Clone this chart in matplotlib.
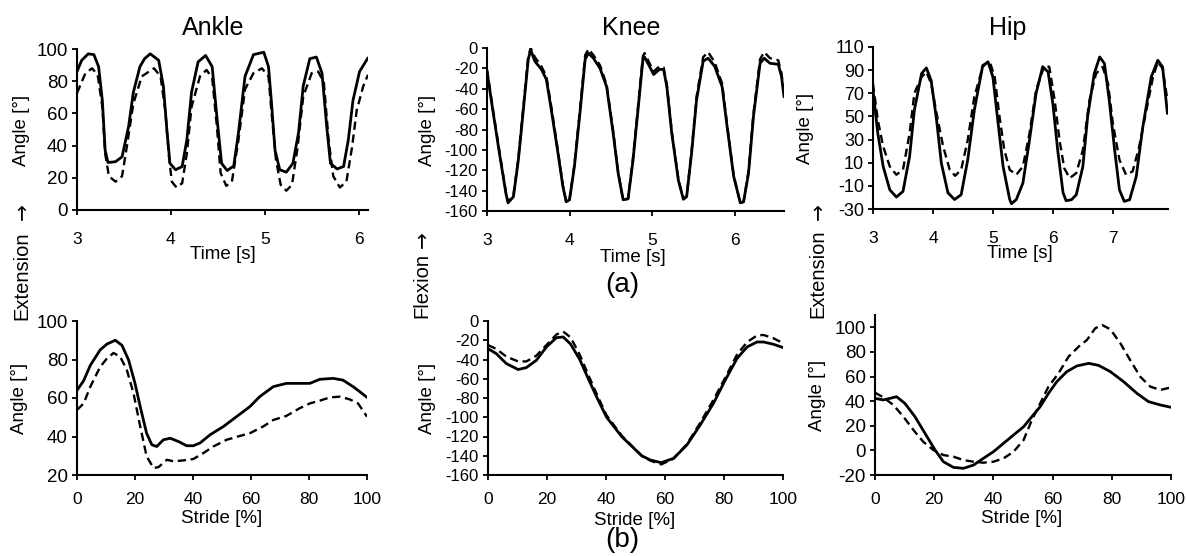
import matplotlib
matplotlib.use("Agg")
import matplotlib.pyplot as plt

#=======================================
# Data
#=======================================
# (a) time series, ankle
ankle_t_solid = [3.0, 3.05, 3.12, 3.18, 3.23, 3.27, 3.30, 3.33, 3.41, 3.48, 3.55, 3.60, 3.67, 3.72, 3.78, 3.87,
                 3.92, 3.96, 3.99, 4.05, 4.12, 4.17, 4.22, 4.29, 4.37, 4.44, 4.49, 4.54, 4.60, 4.67, 4.72,
                 4.79, 4.88, 4.99, 5.04, 5.07, 5.11, 5.16, 5.23, 5.30, 5.36, 5.41, 5.48, 5.55, 5.61, 5.66,
                 5.70, 5.77, 5.84, 5.89, 5.94, 6.01, 6.10]
ankle_solid = [86, 93, 97, 96.5, 89, 68, 37, 29.5, 30, 33, 52, 73, 89, 94, 97, 93,
               77, 48, 29, 25, 27, 43.5, 73, 92, 96, 89, 58, 29, 24.5, 27.4, 48,
               83, 96.5, 98, 89, 68, 37, 25, 23.5, 29, 48, 77, 94, 95, 85, 52,
               29, 25.5, 27, 43.5, 68, 86, 94.5]
ankle_t_dash = [3.0, 3.09, 3.16, 3.22, 3.27, 3.30, 3.34, 3.41, 3.48, 3.53, 3.60, 3.69, 3.82, 3.89, 3.94,
                3.98, 4.01, 4.06, 4.12, 4.17, 4.22, 4.31, 4.38, 4.44, 4.49, 4.53, 4.59, 4.65, 4.72, 4.79,
                4.88, 4.97, 5.04, 5.07, 5.12, 5.17, 5.23, 5.29, 5.35, 5.41, 5.50, 5.57, 5.63, 5.68, 5.73,
                5.80, 5.87, 5.93, 5.98, 6.05, 6.10]
ankle_dash = [72.6, 85, 88, 84, 64, 35, 21, 17.6, 21, 39, 66, 83, 88, 83, 62,
              33, 17.6, 14, 16.6, 35, 64, 83, 87, 82, 52, 23, 15, 17.6, 43.5, 75,
              85, 88, 83, 62, 31, 15.6, 12, 15.6, 39, 70.5, 85, 86, 79, 43.5, 21,
              14, 17.6, 39, 62, 77, 84]

# (a) time series, knee
knee_t = [3.0, 3.07, 3.15, 3.23, 3.255, 3.32, 3.38, 3.44, 3.50, 3.53, 3.58, 3.66, 3.72, 3.78, 3.86,
          3.92, 3.96, 4.00, 4.06, 4.13, 4.19, 4.23, 4.29, 4.37, 4.45, 4.53, 4.59, 4.65, 4.71, 4.77,
          4.83, 4.89, 4.91, 4.97, 5.02, 5.09, 5.14, 5.18, 5.24, 5.32, 5.38, 5.42, 5.48, 5.54, 5.62,
          5.68, 5.76, 5.85, 5.91, 5.99, 6.07, 6.11, 6.17, 6.23, 6.31, 6.36, 6.43, 6.53, 6.57, 6.60]
knee_solid = [-23, -61, -103, -143, -152, -146, -110, -61, -11, -2, -13, -21, -31, -61, -103,
              -136, -151, -149, -116, -61, -11, -5, -10, -20, -38, -84, -123, -149, -148, -110,
              -61, -11, -9, -18, -26, -21, -21, -38, -84, -130, -148.5, -146, -103, -51, -13,
              -10, -18, -38, -77, -126, -152, -151, -123, -67, -15, -10, -15, -16, -28, -48]
knee_dash = [-21, -59, -101, -142, -151, -145, -108, -58, -8, 0, -9, -18, -28, -58, -101,
             -135, -151, -149, -114, -58, -7, -1, -7, -17, -36, -82, -122, -149, -148, -108,
             -58, -8, -5, -15, -23, -18, -19, -36, -82, -129, -148, -145, -101, -48, -9,
             -4, -14, -35, -75, -125, -152, -151, -121, -64, -11, -4, -10, -12, -25, -45]

# (a) time series, hip
hip_t_solid = [3.0, 3.08, 3.17, 3.28, 3.39, 3.50, 3.61, 3.69, 3.81, 3.89, 3.97, 4.06, 4.14, 4.25, 4.36,
               4.47, 4.58, 4.69, 4.83, 4.92, 5.0, 5.08, 5.17, 5.28, 5.31, 5.39, 5.50, 5.61, 5.72, 5.83,
               5.92, 6.0, 6.08, 6.17, 6.22, 6.31, 6.39, 6.50, 6.58, 6.69, 6.78, 6.86, 6.94, 7.03, 7.11,
               7.19, 7.28, 7.39, 7.50, 7.64, 7.75, 7.83, 7.91]
hip_solid = [72.7, 35.4, 6.7, -13.4, -19.7, -14.8, 15.3, 55.5, 87, 92, 81, 47, 9.6, -16, -21.8,
             -17.7, 12.5, 55.5, 94, 97, 84, 47, 6.7, -21.8, -25.4, -21.8, -7.6, 29.7, 70, 93,
             88.5, 61, 21, -16, -22.8, -22, -17.7, 6.7, 50, 87, 101.4, 95.7, 64, 21, -13.4,
             -23.4, -22, -2, 41, 84, 98.5, 92.8, 52.6]
hip_t_dash = [3.0, 3.08, 3.17, 3.28, 3.39, 3.50, 3.61, 3.69, 3.81, 3.89, 3.97, 4.06, 4.17, 4.28, 4.37,
              4.47, 4.58, 4.69, 4.83, 4.94, 5.03, 5.11, 5.19, 5.28, 5.39, 5.50, 5.61, 5.72, 5.86, 5.94,
              6.03, 6.11, 6.19, 6.28, 6.39, 6.50, 6.61, 6.72, 6.83, 6.92, 7.0, 7.11, 7.22, 7.33, 7.44,
              7.56, 7.67, 7.75, 7.83, 7.91]
hip_dash = [78.4, 47, 24, 6.7, -0.4, 3.9, 35.4, 70, 84, 88.5, 78.4, 52.6, 24, 3.9, -1.3,
            3.9, 29.7, 67, 92.8, 98.5, 84, 49.8, 21, 3.9, -0.4, 6.7, 35.4, 72.7, 94.2, 92.8,
            64, 29.7, 5.3, -3.3, 1, 21, 64, 87, 92.8, 78.4, 44, 12.5, -0.4, 2.5, 24,
            55.5, 84, 97, 91.4, 64]

# (b) mean stride
ankle_s_solid = [0, 2.3, 4.6, 8, 10.3, 13.2, 15.5, 17.8, 20, 21.8, 24, 25.8, 27.5, 29.8, 32.1, 35, 37.8,
                 40.1, 42.4, 45.9, 50.5, 55, 59.6, 63, 67.7, 72.2, 76.8, 80.3, 83.7, 88.3, 91.7, 95.2,
                 97.5, 100]
ankle_b_solid = [64, 69, 77, 85, 88, 90, 87.4, 79.7, 67.6, 55.5, 41.7, 35.7, 34.8, 38.3, 39.1, 37.4, 35.2,
                 35.2, 36.6, 40.9, 45.2, 50.3, 55.5, 60.7, 65.9, 67.6, 67.6, 67.6, 69.7, 70.2, 69.3, 65.9,
                 63.3, 60.3]
ankle_s_dash = [0, 2.3, 4.6, 8, 10.3, 12.6, 14.9, 17.2, 19.5, 21.8, 24, 26.4, 28.1, 31, 33.3, 36.7, 40.1,
                43.6, 47, 51.6, 56.2, 59.6, 64.2, 67.7, 72.2, 76.8, 80.3, 83.7, 87.2, 90.6, 94, 96.9, 100]
ankle_b_dash = [53.8, 57.2, 65.9, 76.2, 80.5, 83.4, 81.4, 74.5, 62.4, 45.2, 29.7, 23.6, 24.1, 27.9, 27.1,
                27.6, 28.3, 31.4, 34.8, 38.3, 40.3, 41.7, 45.2, 48.6, 50.7, 54.7, 57.2, 58.6, 60.3, 60.7,
                59.3, 57.2, 50.3]

knee_s = [0, 2.8, 6.2, 10.2, 13, 16.4, 19.8, 23.2, 25.5, 28, 31.1, 34, 37, 40.2, 45.3, 52.1, 55, 58.7,
          62.9, 67.4, 71.9, 76.4, 80.4, 84.4, 87.8, 91.2, 93.4, 96.8, 100]
knee_b_solid = [-28.7, -33.9, -44.2, -50.4, -48.4, -40.8, -27, -17.3, -16.6, -24, -40, -60, -80, -100,
                -120, -140, -144.4, -147.2, -142.7, -128.9, -108.2, -85.7, -61.5, -39, -27, -21.8,
                -21.8, -24.2, -27.6]
knee_b_dash = [-25, -29, -37, -42, -42, -36, -25, -14, -11, -17, -35, -56, -77, -98, -119, -140, -145,
               -149, -143, -128, -106, -82, -59, -35, -22, -15, -14.5, -18, -23]

hip_s_solid = [0, 2.8, 5.1, 7.3, 10.1, 13.5, 16.9, 20.3, 23.1, 26.5, 29.9, 33.3, 36.6, 40, 43.4, 46.8,
               50.2, 53, 55.8, 58.6, 61.4, 64.8, 68.2, 72.2, 75.5, 79.5, 84, 88.5, 92.4, 96.4, 100]
hip_b_solid = [42.3, 41, 42.3, 43.6, 38.2, 27.4, 13.8, 0.3, -9.2, -13.8, -14.6, -11.9, -6.5, -1.1, 5.7,
               12.5, 19.2, 27.4, 35.5, 46.3, 55.8, 64, 68.6, 70.7, 69.1, 64, 55.8, 46.3, 39.6, 36.9, 35]
hip_s_dash = [0, 2.8, 6.2, 9.6, 13, 16.3, 19.7, 23.1, 26.5, 29.9, 33.3, 36.6, 40, 43.4, 46.8, 50.2, 53,
              55.8, 58.6, 62, 65.4, 68.8, 71.6, 74.4, 76.7, 79.5, 82.9, 86.2, 89.6, 93, 96.4, 100]
hip_b_dash = [46.9, 43.1, 36.9, 27.4, 16.5, 7, 0.3, -3.8, -5.1, -7.9, -9.2, -10, -9.2, -6.5, -1.1, 8.4,
              24.7, 38.2, 51.8, 62.6, 76.2, 84.3, 89.7, 99.2, 101.9, 98.4, 87, 73.4, 59.9, 51.8, 49.1, 51.2]

#=======================================
# Layout (pixel boxes: left, top, right, bottom)
#=======================================
W, H = 1187, 556
plt.rcParams['font.family'] = ['Liberation Sans', 'DejaVu Sans']
plt.rcParams['axes.unicode_minus'] = False

fig = plt.figure(figsize=(W / 100.0, H / 100.0), dpi=100)


def add_panel(l, t, r, b, ysize=13):
    ax = fig.add_axes([l / W, 1 - b / H, (r - l) / W, (b - t) / H])
    ax.spines['top'].set_visible(False)
    ax.spines['right'].set_visible(False)
    ax.spines['left'].set_linewidth(1.5)
    ax.spines['bottom'].set_linewidth(1.5)
    ax.tick_params(direction='out', length=3.5, width=1.3, colors='black')
    ax.tick_params(axis='y', pad=3, labelsize=ysize)
    ax.tick_params(axis='x', labelsize=12.5)
    return ax


def draw(ax, xs, ys, xd, yd):
    ax.plot(xs, ys, color='black', lw=2.0, solid_capstyle='round')
    ax.plot(xd, yd, color='black', lw=1.7, linestyle=(0, (3.5, 2)))


def ftext(x, y, s, **kw):
    fig.text(x / W, 1 - y / H, s, **kw)


# top row
ax1 = add_panel(77, 49, 368, 210, ysize=13.5)
draw(ax1, ankle_t_solid, ankle_solid, ankle_t_dash, ankle_dash)
ax1.set_xlim(3, 6.1)
ax1.set_ylim(0, 100)
ax1.set_xticks([3, 4, 5, 6])
ax1.set_yticks(range(0, 101, 20))

ax2 = add_panel(487, 48, 784, 211, ysize=12)
draw(ax2, knee_t, knee_solid, knee_t, knee_dash)
ax2.set_xlim(3, 6.6)
ax2.set_ylim(-160, 0)
ax2.set_xticks([3, 4, 5, 6])
ax2.set_yticks(range(-160, 1, 20))

ax3 = add_panel(873, 47, 1168, 209, ysize=13)
draw(ax3, hip_t_solid, hip_solid, hip_t_dash, hip_dash)
ax3.set_xlim(3, 7.92)
ax3.set_ylim(-30, 110)
ax3.set_xticks([3, 4, 5, 6, 7])
ax3.set_yticks(range(-30, 111, 20))

for ax in (ax1, ax2, ax3):
    ax.tick_params(axis='x', pad=12)

# bottom row
ax4 = add_panel(77, 321, 367, 475, ysize=13.5)
draw(ax4, ankle_s_solid, ankle_b_solid, ankle_s_dash, ankle_b_dash)
ax4.set_ylim(20, 100)
ax4.set_yticks(range(20, 101, 20))

ax5 = add_panel(488, 321, 783, 475, ysize=12)
draw(ax5, knee_s, knee_b_solid, knee_s, knee_b_dash)
ax5.set_ylim(-160, 0)
ax5.set_yticks(range(-160, 1, 20))

ax6 = add_panel(875, 315, 1171, 475, ysize=13.5)
draw(ax6, hip_s_solid, hip_b_solid, hip_s_dash, hip_b_dash)
ax6.set_ylim(-20, 110)
ax6.set_yticks(range(-20, 101, 20))

for ax in (ax4, ax5, ax6):
    ax.set_xlim(0, 100)
    ax.set_xticks(range(0, 101, 20))
    ax.tick_params(axis='x', pad=9)

#=======================================
# Labels
#=======================================
lab = dict(fontsize=13.5, ha='center', va='center', rotation=90)
# Angle labels: (x, y center)
for x, y in [(21, 130), (427, 130), (805, 128), (20, 398), (428, 398), (818, 395)]:
    ftext(x, y, u"Angle [°]", **lab)

for x, y in [(223, 259), (633, 262), (1020, 258)]:
    ftext(x, y, "Time [s]", fontsize=13.5, ha='center', va='baseline')
for x, y in [(222, 523), (635, 525), (1022, 523)]:
    ftext(x, y, "Stride [%]", fontsize=13.5, ha='center', va='baseline')

# direction labels, arrow drawn separately so it gets the longer DejaVu glyph
for x, y0, word, ya in [(22, 320, "Extension", 212), (422, 318, "Flexion", 240),
                        (818, 318, "Extension", 212)]:
    ftext(x, y0, word, fontsize=14.5, ha='center', va='bottom', rotation=90)
    ftext(x, ya, u"\u2192", fontsize=14.5, ha='center', va='center', rotation=90,
          family='DejaVu Sans')

ftext(213, 35, "Ankle", fontsize=18, ha='center', va='baseline')
ftext(631, 35, "Knee", fontsize=18, ha='center', va='baseline')
ftext(1008, 35, "Hip", fontsize=18, ha='center', va='baseline')

ftext(622, 292, "(a)", fontsize=20, ha='center', va='baseline')
ftext(622, 547, "(b)", fontsize=20, ha='center', va='baseline')

fig.savefig("out.png", dpi=100)
